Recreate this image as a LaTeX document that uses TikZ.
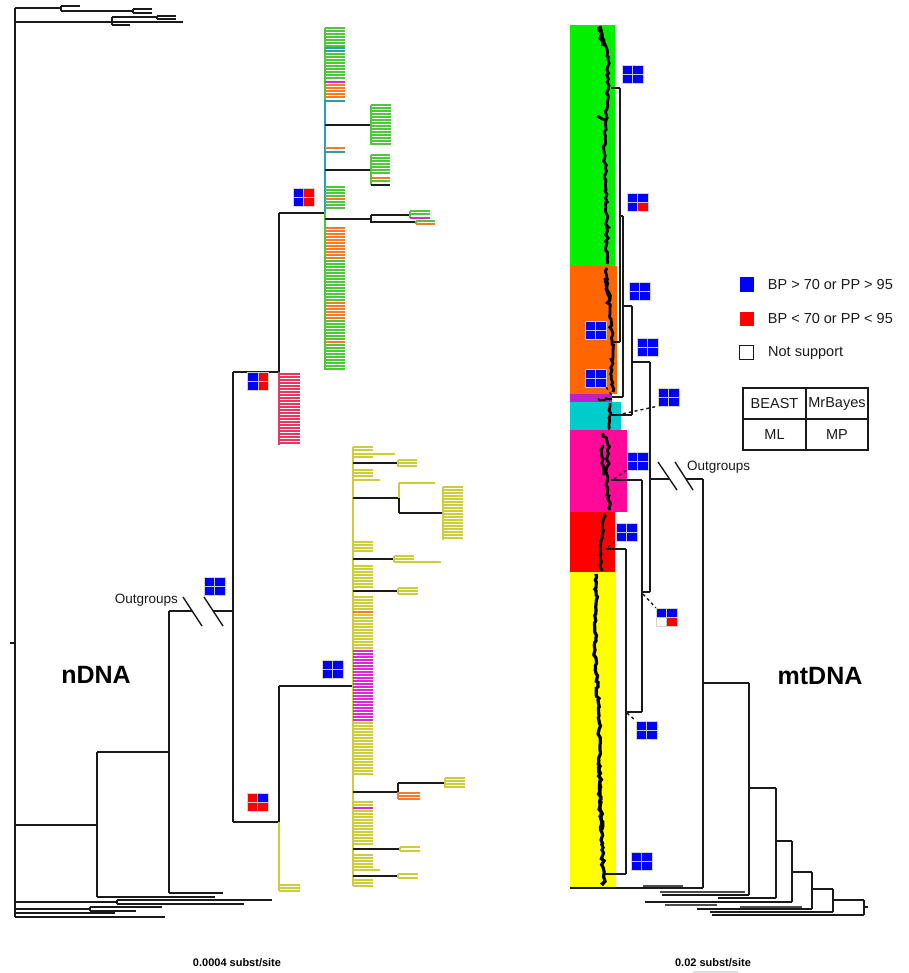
\documentclass[tikz,border=0pt]{standalone}
\usepackage{fontspec}
\setmainfont{Liberation Sans}
\usetikzlibrary{positioning,decorations.pathmorphing}
\definecolor{ngreen}{HTML}{4FC63B}
\definecolor{nteal}{HTML}{2F9BB0}
\definecolor{norange}{HTML}{F47A2C}
\definecolor{nmag}{HTML}{D92BD3}
\definecolor{nred}{HTML}{E5385E}
\definecolor{nyel}{HTML}{CDCD3C}
\definecolor{mgreen}{HTML}{00F000}
\definecolor{morange}{HTML}{FF6600}
\definecolor{mpurple}{HTML}{C020C8}
\definecolor{mcyan}{HTML}{00CCCC}
\definecolor{mpink}{HTML}{FF0A98}
\definecolor{mred}{HTML}{FF0000}
\definecolor{myel}{HTML}{FFFF00}
\definecolor{sblue}{HTML}{0000FF}
\definecolor{sred}{HTML}{FF0000}
\definecolor{ink}{HTML}{1A1A1A}
\newcommand{\legfont}{\fontsize{14.5pt}{17pt}\selectfont}
\newcommand{\tiprun}[6]{\foreach \ty in {#4,#5,...,#6} \draw[leaf,#3] (#1,\ty) -- ++(#2,0);}
\tikzset{
  br/.style={line width=1.6pt, draw=ink},
  leaf/.style={line width=1.15pt},
  cut/.style={line width=1.4pt, draw=ink},
  dsh/.style={line width=1.4pt, draw=ink, dash pattern=on 3pt off 3pt},
  clump/.style={line width=2.8pt, draw=black, decorate,
    decoration={random steps, segment length=3pt, amplitude=1.5pt}},
  qbox/.style n args={4}{minimum width=21pt, minimum height=18pt, inner sep=0pt,
    draw=gray!35, line width=0.4pt,
    path picture={
      \fill[#1] (path picture bounding box.north west) rectangle (path picture bounding box.center);
      \fill[#2] (path picture bounding box.north east) rectangle (path picture bounding box.center);
      \fill[#3] (path picture bounding box.south west) rectangle (path picture bounding box.center);
      \fill[#4] (path picture bounding box.south east) rectangle (path picture bounding box.center);
      \draw[gray!45, line width=0.6pt] (path picture bounding box.north) -- (path picture bounding box.south)
        (path picture bounding box.west) -- (path picture bounding box.east);
    }},
  qall/.style={qbox={sblue}{sblue}{sblue}{sblue}},
  keysq/.style={minimum size=14pt, inner sep=0pt},
  lab/.style={font=\legfont, text=ink, anchor=west, inner sep=0pt},
  tcell/.style={font=\fontsize{14.5pt}{17pt}\selectfont, text=ink, inner sep=0pt},
  bigl/.style={font=\fontsize{25pt}{30pt}\selectfont\bfseries, text=black},
  scl/.style={font=\fontsize{11pt}{13pt}\selectfont\bfseries, text=black},
}
\begin{document}
\begin{tikzpicture}[x=1pt,y=-1pt]
  \useasboundingbox (0,0) rectangle (908,973);
  \pgfmathsetseed{11}

  % nDNA backbone
  \draw[br] (10,643) -- (15,643) (15,8) -- (15,917);
  \draw[br] (15,8) -- (61,8) (61,6) -- (61,11) (61,6) -- (80,6) (61,11) -- (133,11)
    (133,9) -- (133,13) (133,9) -- (152,9) (133,13) -- (152,13);
  \draw[br] (15,22) -- (112,22) (112,17) -- (112,25) (112,17) -- (157,17) (157,16) -- (157,19)
    (157,16) -- (176,16) (157,19) -- (176,19) (112,22) -- (183,22) (112,25) -- (130,25);
  \draw[br] (15,825) -- (97,825) (97,752) -- (97,897) (97,897) -- (215,897);
  \draw[br] (97,752) -- (169,752) (169,611) -- (169,893) (169,893) -- (223,893);
  \draw[br] (169,611) -- (192,611) (213,611) -- (233,611);
  \draw[cut] (183,597) -- (202,626) (204,597) -- (223,626);
  \node[lab, font=\fontsize{13.5pt}{16pt}\selectfont, anchor=east] (ogn) at (178,600) {Outgroups};
  \draw[br] (233,372) -- (233,822) (233,372) -- (279,372) (279,213) -- (279,372) (279,213) -- (325,213);
  \draw[br] (233,822) -- (279,822) (279,686) -- (279,822) (279,686) -- (353,686);
  \draw[br] (15,902) -- (117,902) (117,900) -- (117,904) (117,900) -- (272,900) (117,904) -- (244,904);
  \draw[br] (15,909) -- (90,909) (90,907) -- (90,911) (90,907) -- (162,907) (90,911) -- (136,911);
  \draw[br] (15,913) -- (115,913) (15,917) -- (165,917);

  % green clade
  \draw[leaf,ngreen] (325,28) -- (325,370);
  \draw[leaf,nteal] (325,100) -- (325,212);
  \tiprun{325}{20}{ngreen}{28}{31}{46}
  \tiprun{325}{20}{nteal}{48}{51}{51}
  \tiprun{325}{20}{ngreen}{54}{57}{79}
  \draw[leaf,nmag] (325,82) -- ++(20,0);
  \tiprun{325}{20}{norange}{85}{88}{98}
  \draw[leaf,nteal] (325,101) -- ++(20,0);
  \draw[leaf,norange] (325,148) -- ++(20,0);
  \draw[leaf,nteal] (325,152) -- ++(20,0);
  \tiprun{325}{20}{ngreen}{187}{190}{196}
  \draw[leaf,norange] (325,199) -- ++(20,0);
  \tiprun{325}{20}{ngreen}{202}{205}{208}
  \tiprun{325}{20}{norange}{228}{231}{259}
  \tiprun{325}{20}{ngreen}{261}{264}{300}
  \tiprun{325}{20}{norange}{303}{306}{318}
  \tiprun{325}{20}{ngreen}{321}{324}{339}
  \draw[leaf,norange] (325,342) -- ++(20,0);
  \tiprun{325}{20}{ngreen}{345}{348}{370}
  \draw[br] (325,125) -- (371,125);
  \draw[leaf,ngreen] (371,105) -- (371,145);
  \tiprun{371}{20}{ngreen}{105}{108}{145}
  \draw[br] (325,170) -- (371,170);
  \draw[leaf,ngreen] (371,155) -- (371,185);
  \tiprun{371}{19}{ngreen}{155}{158}{175}
  \draw[leaf,norange] (371,178) -- ++(19,0);
  \draw[leaf,ngreen] (371,181) -- ++(19,0);
  \draw[br] (371,185) -- ++(19,0);
  \draw[br] (325,219) -- (371,219) (371,215) -- (371,223) (371,215) -- (410,215) (371,222) -- (416,222);
  \draw[leaf,ngreen] (410,211) -- (410,218) (410,211) -- ++(20,0) (410,214) -- ++(20,0);
  \draw[leaf,nmag] (410,218) -- ++(20,0);
  \draw[leaf,ngreen] (416,221) -- (416,224) (416,221) -- ++(19,0);
  \draw[leaf,norange] (416,224) -- ++(19,0);

  % red clade
  \draw[leaf,nred] (279,372) -- (279,445);
  \tiprun{279}{21}{nred}{374}{377}{445}

  % yellow clade
  \draw[leaf,nyel] (353,447) -- (353,886);
  \tiprun{353}{20}{nyel}{447}{450}{450}
  \draw[leaf,nyel] (353,454) -- (395,454) (353,457) -- ++(20,0);
  \draw[br] (353,463) -- (398,463);
  \draw[leaf,nyel] (398,460) -- (398,467);
  \tiprun{398}{19}{nyel}{460}{463}{466}
  \tiprun{353}{20}{nyel}{470}{473}{476}
  \draw[leaf,nyel] (353,480) -- (380,480);
  \draw[br] (353,498) -- (399,498) (399,498) -- (399,513) (399,513) -- (443,513);
  \draw[leaf,nyel] (399,483) -- (399,498) (399,483) -- (435,483);
  \draw[leaf,nyel] (443,487) -- (443,540);
  \tiprun{443}{20}{nyel}{487}{490}{540}
  \tiprun{353}{20}{nyel}{542}{545}{553}
  \draw[br] (353,559) -- (394,559);
  \draw[leaf,nyel] (394,556) -- (394,562) (394,556) -- ++(20,0) (394,559) -- ++(20,0) (394,562) -- (441,562);
  \tiprun{353}{20}{nyel}{566}{569}{587}
  \draw[br] (353,591) -- (398,591);
  \draw[leaf,nyel] (398,588) -- (398,594);
  \tiprun{398}{20}{nyel}{588}{591}{594}
  \tiprun{353}{20}{nyel}{597}{600}{609}
  \draw[leaf,norange] (353,612) -- ++(20,0);
  \tiprun{353}{20}{nyel}{615}{618}{648}
  \tiprun{353}{20}{nmag}{651}{654}{720}
  \tiprun{353}{20}{nyel}{723}{726}{774}
  \draw[br] (353,792) -- (398,792) (398,783) -- (398,792) (398,783) -- (445,783);
  \draw[leaf,nyel] (445,778) -- (445,788);
  \tiprun{445}{20}{nyel}{778}{781}{788}
  \draw[leaf,norange] (398,792) -- (398,799);
  \tiprun{398}{22}{norange}{793}{796}{799}
  \tiprun{353}{20}{nyel}{802}{805}{805}
  \draw[leaf,nmag] (353,808) -- ++(20,0);
  \tiprun{353}{20}{nyel}{811}{814}{844}
  \draw[br] (353,849) -- (400,849);
  \draw[leaf,nyel] (400,847) -- (400,851) (400,847) -- ++(20,0) (400,851) -- ++(20,0);
  \tiprun{353}{20}{nyel}{855}{858}{867}
  \draw[leaf,nyel] (353,870) -- (380,870);
  \draw[br] (353,876) -- (398,876);
  \draw[leaf,nyel] (398,874) -- (398,878) (398,874) -- ++(20,0) (398,878) -- ++(20,0);
  \tiprun{353}{20}{nyel}{880}{883}{886}
  \draw[leaf,nyel] (279,822) -- (279,891);
  \tiprun{279}{21}{nyel}{885}{888}{891}

  % nDNA support
  \node[qbox={sblue}{sred}{sblue}{sred}] (sn1) at (303.5,197) {};
  \node[qbox={sblue}{sred}{sblue}{sred}] (sn2) at (258,381) {};
  \node[qall] (sn3) at (214.5,586.5) {};
  \node[qall] (sn4) at (332.5,669) {};
  \node[qbox={sred}{sblue}{sred}{sred}] (sn5) at (257.5,802.5) {};
  \node[bigl] (ndna) at (96,675) {nDNA};
  \node[scl] (scn) at (237,963) {0.0004 subst/site};

  % mtDNA clades
  \fill[mgreen] (570,25) rectangle (615,266);
  \fill[morange] (570,266) rectangle (617,394);
  \fill[mpurple] (570,394) rectangle (612,402);
  \fill[mcyan] (570,402) rectangle (621,430);
  \fill[mpink] (570,430) rectangle (627,512);
  \fill[mred] (570,512) rectangle (615,572);
  \fill[myel] (570,572) rectangle (616,887);
  \draw[clump] (600,26) -- (604,40) -- (608,60) -- (608,90) -- (606,120) -- (604,150) -- (606,180) -- (607,220) -- (607,264);
  \draw[clump, line width=3.5pt] (599,27) -- (603,46);
  \draw[clump] (597,116) -- (605,120);
  \draw[clump] (607,268) -- (606,285) -- (610,310) -- (612,340) -- (612,370) -- (613,392);
  \draw[clump] (605,278) -- (610,300);
  \draw[clump, line width=2pt] (598,399) -- (612,399);
  \draw[clump] (610,403) -- (609,418) -- (610,429);
  \draw[clump] (603,433) -- (608,445) -- (608,465) -- (606,485) -- (610,505) -- (610,510);
  \draw[clump] (602,445) -- (603,475);
  \draw[clump] (604,514) -- (602,535) -- (600,555) -- (602,571);
  \draw[clump, line width=3.2pt] (596,574) -- (596,610) -- (595,650) -- (598,700) -- (600,750) -- (600,800) -- (602,850) -- (604,885);
  \draw[clump] (599,760) -- (602,830);

  % mtDNA tree
  \draw[br] (611,88) -- (620,88) (620,88) -- (620,342) (620,342) -- (613,342);
  \draw[br] (620,216) -- (623,216) (623,216) -- (623,397) (623,397) -- (612,397);
  \draw[br] (623,306) -- (632,306) (632,306) -- (632,415) (632,415) -- (610,415);
  \draw[br] (632,362) -- (650,362) (650,362) -- (650,592) (650,592) -- (642,592);
  \draw[br] (642,480) -- (642,712) (642,480) -- (611,480) (642,712) -- (626,712);
  \draw[br] (626,549) -- (626,874) (626,549) -- (606,549) (626,874) -- (605,874);
  \draw[br] (650,479) -- (670,479) (686,479) -- (703,479);
  \draw[cut] (658,462) -- (677,490) (675,462) -- (693,490);
  \node[lab, font=\fontsize{13.5pt}{16pt}\selectfont] (ogm) at (687,467) {Outgroups};
  \draw[br] (703,479) -- (703,888) (703,888) -- (570,888);
  \draw[leaf, gray!60!black, line width=2pt] (683,886) -- (643,886);
  \draw[br] (703,683) -- (749,683) (749,683) -- (749,895) (749,895) -- (662,895);
  \draw[leaf, gray!60!black, line width=2pt] (745,892) -- (660,892);
  \draw[br] (749,788) -- (776,788) (776,788) -- (776,898) (776,898) -- (718,898);
  \draw[br] (776,841) -- (792,841) (792,841) -- (792,902) (792,902) -- (645,902);
  \draw[leaf, gray!60!black, line width=2pt] (717,905) -- (665,905);
  \draw[br] (792,872) -- (812,872) (812,872) -- (812,909) (812,909) -- (697,909);
  \draw[leaf, gray!60!black, line width=2pt] (802,907) -- (740,907);
  \draw[br] (812,889) -- (833,889) (833,889) -- (833,912) (833,912) -- (710,912);
  \draw[br] (833,900) -- (864,900) (864,900) -- (864,915) (864,915) -- (712,915);
  \draw[br] (864,907) -- (868,907);

  % mtDNA support
  \node[qall] (sm1) at (632.5,74) {};
  \node[qbox={sblue}{sblue}{sblue}{sred}] (sm2) at (637.5,202) {};
  \node[qall] (sm3) at (639.5,291) {};
  \node[qall] (sm4) at (595.5,330) {};
  \node[qall] (sm5) at (647.5,347) {};
  \node[qall] (sm6) at (595.5,378) {};
  \node[qall] (sm7) at (668.5,397) {};
  \node[qall] (sm8) at (637.5,461) {};
  \node[qall] (sm9) at (626.5,532) {};
  \node[qbox={sblue}{sblue}{white}{sred}] (sm10) at (666.5,617) {};
  \node[qall] (sm11) at (646.5,730) {};
  \node[qall] (sm12) at (641.5,861) {};
  \coordinate (dmag) at (613,397);
  \coordinate (dcya) at (617,415);
  \coordinate (dpnk) at (614,479);
  \coordinate (dred) at (608,547);
  \coordinate (dmid) at (643,594);
  \coordinate (dyel) at (627,713);
  \draw[dsh] (sm6.south east) -- (dmag);
  \draw[dsh] (dcya) -- (sm7.south west);
  \draw[dsh] (dpnk) -- (sm8.south west);
  \draw[dsh] (dred) -- (sm9.south west);
  \draw[dsh] (dmid) -- (sm10.north west);
  \draw[dsh] (dyel) -- (sm11.north west);
  \node[bigl] (mtdna) at (820,676) {mtDNA};
  \node[scl] (scm) at (713,963) {0.02 subst/site};
  \draw[gray!25, line width=1.5pt] (693,972) -- (738,972);

  % legend
  \node[keysq, fill=sblue] (kb) at (746.5,284.5) {};
  \node[lab, right=14pt of kb] (tb) {BP > 70 or PP > 95};
  \node[keysq, fill=sred, below=20pt of kb] (kr) {};
  \node[lab, right=14pt of kr] (tr) {BP < 70 or PP < 95};
  \node[keysq, draw=ink, line width=1pt, fill=white, below=19pt of kr] (kw) {};
  \node[lab, right=14pt of kw] (tw) {Not support};
  \draw[line width=1.3pt, draw=ink] (743,388) rectangle (868,450) (806,388) -- (806,450) (743,419) -- (868,419);
  \node[tcell] (cbeast) at (774.5,404) {BEAST};
  \node[tcell] (cmrb) at (837,404) {MrBayes};
  \node[tcell] (cml) at (774.5,435) {ML};
  \node[tcell] (cmp) at (837,435) {MP};
\end{tikzpicture}
\end{document}
